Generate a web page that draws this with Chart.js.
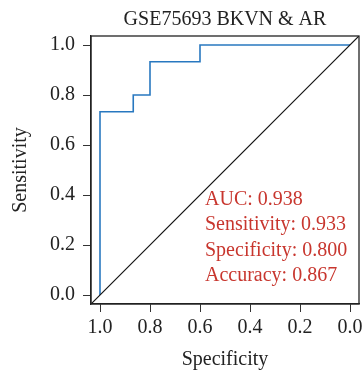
<!DOCTYPE html>
<html>
<head>
<meta charset="utf-8">
<script src="https://cdn.jsdelivr.net/npm/chart.js@4.4.0/dist/chart.umd.min.js"></script>
<style>
  html, body { margin: 0; padding: 0; background: #fff; }
  #wrap { width: 362px; height: 376px; }
</style>
</head>
<body>
<div id="wrap"><canvas id="roc" width="362" height="376"></canvas></div>
<script>
// --- Données ROC ---
const specificity = [1.0, 1.0, 0.867, 0.867, 0.8, 0.8, 0.6, 0.6, 0.0];
const sensitivity = [0.0, 0.733, 0.733, 0.8, 0.8, 0.933, 0.933, 1.0, 1.0];
const tickValues = [0, 0.2, 0.4, 0.6, 0.8, 1.0];
const statLabels = ['AUC', 'Sensitivity', 'Specificity', 'Accuracy'];
const statValues = ['0.938', '0.933', '0.800', '0.867'];
const chartTitle = 'GSE75693 BKVN & AR';

const AX_MIN = -0.036;
const AX_MAX = 1.036;
const FONT = "'Liberation Serif', 'DejaVu Serif', serif";
const RED = '#c8362e';

const rocPoints = specificity.map((s, i) => ({ x: s, y: sensitivity[i] }));
const diagPoints = [AX_MAX, AX_MIN].map(v => ({ x: v, y: 1 - v }));

// titre, cadre et texte des statistiques
const overlay = {
  id: 'overlay',
  afterDraw(chart) {
    const { ctx, chartArea, scales } = chart;
    ctx.save();
    ctx.strokeStyle = '#222';
    ctx.lineWidth = 1.3;
    ctx.strokeRect(chartArea.left, chartArea.top, chartArea.right - chartArea.left, chartArea.bottom - chartArea.top);

    ctx.fillStyle = '#222';
    ctx.font = `20px ${FONT}`;
    ctx.textAlign = 'center';
    ctx.textBaseline = 'alphabetic';
    ctx.fillText(chartTitle, (chartArea.left + chartArea.right) / 2, 25);

    ctx.fillStyle = RED;
    ctx.textAlign = 'left';
    const x0 = scales.x.getPixelForValue(0.58);
    const y0 = scales.y.getPixelForValue(0.36);
    statLabels.forEach((lab, i) => {
      ctx.fillText(`${lab}: ${statValues[i]}`, x0, y0 + i * 25.3);
    });
    ctx.restore();
  }
};

const rocCtx = document.getElementById('roc');

const rocChart = new Chart(rocCtx, {
  type: 'line',
  data: {
    datasets: [
      {
        data: diagPoints,
        borderColor: '#111',
        borderWidth: 1.2,
        pointRadius: 0,
        tension: 0
      },
      {
        data: rocPoints,
        borderColor: '#2878c0',
        borderWidth: 1.6,
        pointRadius: 0,
        tension: 0
      }
    ]
  },
  options: {
    responsive: false,
    animation: false,
    layout: { padding: { top: 36, right: 3, left: 0, bottom: 0 } },
    plugins: {
      legend: { display: false },
      tooltip: { enabled: false }
    },
    scales: {
      x: {
        type: 'linear',
        reverse: true,
        min: AX_MIN,
        max: AX_MAX,
        afterBuildTicks: scale => { scale.ticks = tickValues.map(v => ({ value: v })); },
        afterFit: scale => { scale.height = 72; },
        ticks: {
          color: '#222',
          font: { family: FONT, size: 20 },
          padding: 4,
          maxRotation: 0,
          callback: v => v.toFixed(1)
        },
        grid: { drawOnChartArea: false, drawTicks: true, tickLength: 8, color: '#333' },
        border: { display: true, color: '#222', width: 1.3 },
        title: {
          display: true,
          text: 'Specificity',
          color: '#222',
          font: { family: FONT, size: 20 },
          padding: { top: 0, bottom: 4 }
        }
      },
      y: {
        type: 'linear',
        min: AX_MIN,
        max: AX_MAX,
        afterBuildTicks: scale => { scale.ticks = tickValues.map(v => ({ value: v })); },
        afterFit: scale => { scale.width = 91; },
        ticks: {
          color: '#222',
          font: { family: FONT, size: 20 },
          padding: 8,
          callback: v => v.toFixed(1)
        },
        grid: { drawOnChartArea: false, drawTicks: true, tickLength: 8, color: '#333' },
        border: { display: true, color: '#222', width: 1.3 },
        title: {
          display: true,
          text: 'Sensitivity',
          color: '#222',
          font: { family: FONT, size: 20 },
          padding: { top: 9, bottom: 0 }
        }
      }
    }
  },
  plugins: [overlay]
});
</script>
</body>
</html>
